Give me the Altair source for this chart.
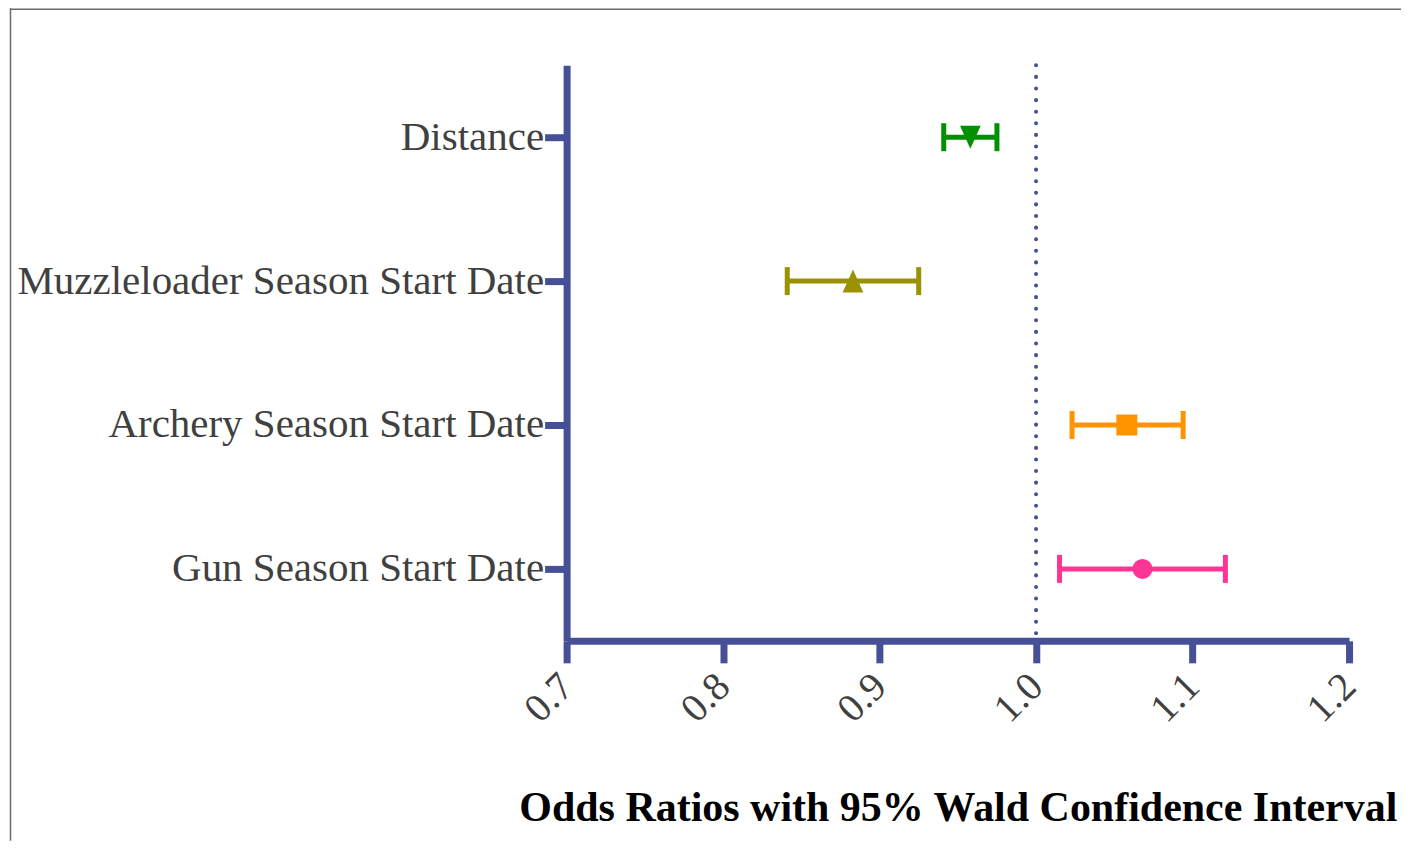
import altair as alt
import pandas as pd

# ---- data ----
categories = [
    "Distance",
    "Muzzleloader Season Start Date",
    "Archery Season Start Date",
    "Gun Season Start Date",
]
odds = [0.958, 0.883, 1.058, 1.068]
lower = [0.941, 0.841, 1.023, 1.015]
upper = [0.975, 0.925, 1.094, 1.121]
x_ticks = [0.7, 0.8, 0.9, 1.0, 1.1, 1.2]
reference_value = [1.0]

# ---- styles ----
marker_colors = ["#009000", "#9a9200", "#ff9400", "#ff3596"]
marker_shapes = ["M0,1L-0.9,-1L0.9,-1Z", "M0,-1L-0.9,1L0.9,1Z", "square", "circle"]
marker_sizes = [529, 529, 441, 400]
axis_color = "#465096"

df = pd.DataFrame({
    "category": categories,
    "odds": odds,
    "lower": lower,
    "upper": upper,
    "msize": marker_sizes,
})

y_enc = alt.Y(
    "category:N",
    sort=categories,
    scale=alt.Scale(type="point", padding=0.5),
    axis=alt.Axis(
        title=None,
        domainColor=axis_color, domainWidth=7,
        tickColor=axis_color, tickWidth=7, tickSize=22,
        labelFont="Liberation Serif", labelFontSize=41, labelColor="#404040",
        labelPadding=1, labelLimit=700, grid=False,
    ),
)
x_scale = alt.Scale(domain=[0.7, 1.2], nice=False, zero=False)
color_enc = alt.Color("category:N", scale=alt.Scale(domain=categories, range=marker_colors), legend=None)

base = alt.Chart(df)

bars = base.mark_rule(strokeWidth=5, opacity=1).encode(
    x=alt.X(
        "lower:Q",
        scale=x_scale,
        axis=alt.Axis(
            values=x_ticks, format=".1f",
            title="Odds Ratios with 95% Wald Confidence Interval",
            titleFont="Liberation Serif", titleFontSize=42, titleFontWeight="bold",
            titleColor="#000000", titleBaseline="alphabetic", titleY=180,
            domainColor=axis_color, domainWidth=7,
            tickColor=axis_color, tickWidth=7, tickSize=22,
            labelFont="Liberation Serif", labelFontSize=40, labelColor="#404040",
            labelAngle=-45, labelAlign="right", labelBaseline="middle",
            labelPadding=17, grid=False,
        ),
    ),
    x2="upper:Q",
    y=y_enc,
    color=color_enc,
)

cap_lo = base.mark_tick(size=28, thickness=5, orient="vertical", opacity=1).encode(
    x=alt.X("lower:Q", scale=x_scale), y=y_enc, color=color_enc
)
cap_hi = base.mark_tick(size=28, thickness=5, orient="vertical", opacity=1).encode(
    x=alt.X("upper:Q", scale=x_scale), y=y_enc, color=color_enc
)

points = base.mark_point(filled=True, opacity=1).encode(
    x=alt.X("odds:Q", scale=x_scale),
    y=y_enc,
    color=color_enc,
    shape=alt.Shape("category:N", scale=alt.Scale(domain=categories, range=marker_shapes), legend=None),
    size=alt.Size("msize:Q", scale=None, legend=None),
)

ref = alt.Chart(pd.DataFrame({"v": reference_value})).mark_rule(
    color=axis_color, strokeWidth=4, strokeDash=[0.1, 11.5], strokeCap="round"
).encode(x=alt.X("v:Q", scale=x_scale))

frame_left = alt.Chart(pd.DataFrame({"v": [0]})).mark_rule(color="#6a6a6a", strokeWidth=1.5).encode(
    x=alt.value(-556.5), y=alt.value(-57), y2=alt.value(776)
)
frame_top = alt.Chart(pd.DataFrame({"v": [0]})).mark_rule(color="#6a6a6a", strokeWidth=1.5).encode(
    x=alt.value(-557), x2=alt.value(835), y=alt.value(-56)
)

chart = alt.layer(ref, bars, cap_lo, cap_hi, points, frame_left, frame_top).properties(
    width=783,
    height=576,
    background="white",
    autosize=alt.AutoSizeParams(type="none"),
    padding={"left": 559, "top": 57, "right": 52, "bottom": 200},
).configure_view(stroke=None, strokeWidth=0)

chart.save("out.html", embed_options={"renderer": "svg", "actions": False})
